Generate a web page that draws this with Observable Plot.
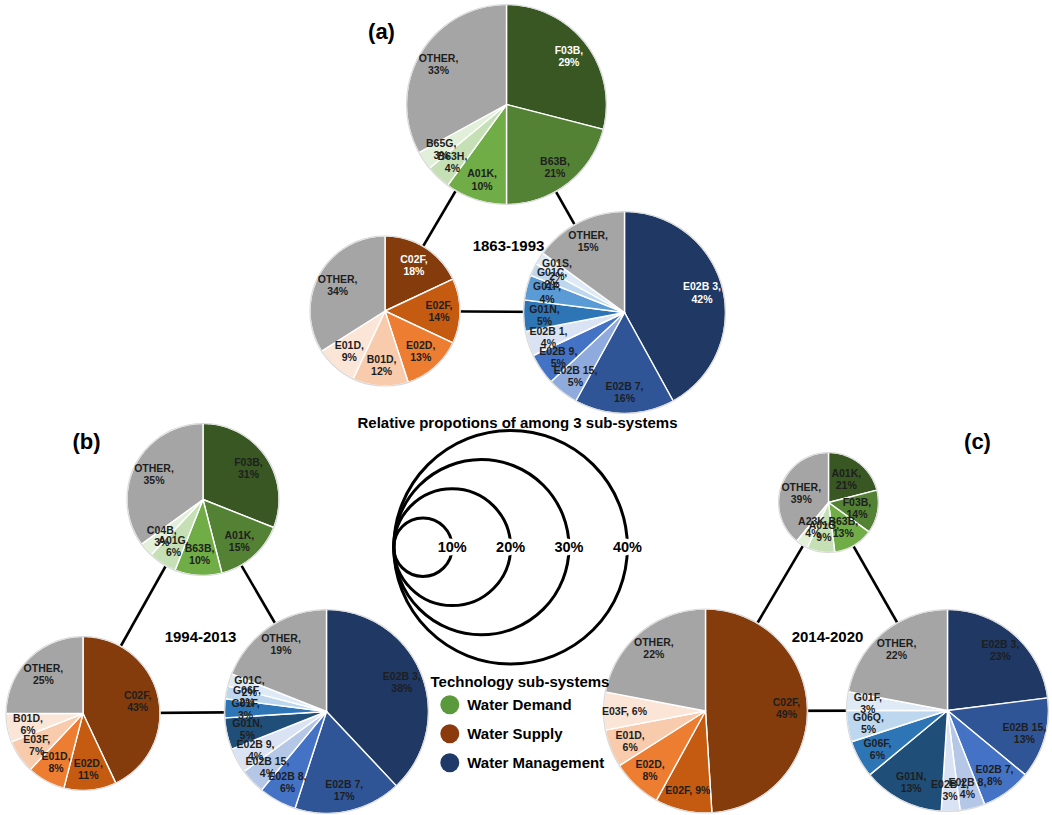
<!DOCTYPE html>
<html>
<head>
<meta charset="utf-8">
<script src="https://cdn.jsdelivr.net/npm/d3@7"></script>
<script src="https://cdn.jsdelivr.net/npm/@observablehq/plot@0.6"></script>
<style>
  html, body { margin: 0; padding: 0; background: #fff; }
  #chart svg { display: block; }
</style>
</head>
<body>
<div id="chart"></div>
<script>
// ---------------- DATA ----------------
// (a) 1863-1993
const demandA_cat = ["F03B", "B63B", "A01K", "B63H", "B65G", "OTHER"];
const demandA_val = [29, 21, 10, 4, 3, 33];
const supplyA_cat = ["C02F", "E02F", "E02D", "B01D", "E01D", "OTHER"];
const supplyA_val = [18, 14, 13, 12, 9, 34];
const mgmtA_cat = ["E02B 3", "E02B 7", "E02B 15", "E02B 9", "E02B 1", "G01N", "G01F", "G01C", "G01S", "OTHER"];
const mgmtA_val = [42, 16, 5, 5, 4, 5, 4, 2, 2, 15];
// (b) 1994-2013
const demandB_cat = ["F03B", "A01K", "B63B", "A01G", "C04B", "OTHER"];
const demandB_val = [31, 15, 10, 6, 3, 35];
const supplyB_cat = ["C02F", "E02D", "E01D", "E03F", "B01D", "OTHER"];
const supplyB_val = [43, 11, 8, 7, 6, 25];
const mgmtB_cat = ["E02B 3", "E02B 7", "E02B 8", "E02B 15", "E02B 9", "G01N", "G01F", "G06F", "G01C", "OTHER"];
const mgmtB_val = [38, 17, 6, 4, 4, 5, 3, 2, 2, 19];
// (c) 2014-2020
const demandC_cat = ["A01K", "F03B", "B63B", "A01G", "A23K", "OTHER"];
const demandC_val = [21, 14, 13, 9, 4, 39];
const supplyC_cat = ["C02F", "E02F", "E02D", "E01D", "E03F", "OTHER"];
const supplyC_val = [49, 9, 8, 6, 6, 22];
const mgmtC_cat = ["E02B 3", "E02B 15", "E02B 7", "E02B 8", "E02B 1", "G01N", "G06F", "G06Q", "G01F", "OTHER"];
const mgmtC_val = [23, 13, 8, 4, 3, 13, 6, 5, 3, 22];

const periods = ["1863-1993", "1994-2013", "2014-2020"];
const panelTags = ["(a)", "(b)", "(c)"];
const scalePct = [10, 20, 30, 40];
const subsystems = ["Water Demand", "Water Supply", "Water Management"];

// ---------------- STYLES ----------------
const GRAY = "#A5A5A5";
const greens = ["#385723", "#548235", "#70AD47", "#C5E0B4", "#E2F0D9", GRAY];
const supplyCol = ["#843C0C", "#C55A11", "#ED7D31", "#F8CBAD", "#FBE5D6", GRAY];
const mgmtColA = ["#1F3864", "#2F5597", "#8FAADC", "#4472C4", "#DAE3F3", "#2E75B6", "#5B9BD5", "#BDD7EE", "#DEEBF7", GRAY];
const mgmtColB = ["#1F3864", "#2F5597", "#4472C4", "#B4C7E7", "#DAE3F3", "#1F4E79", "#2E75B6", "#BDD7EE", "#DEEBF7", GRAY];
const subsysColors = ["#5A9A3C", "#8B3A0E", "#1F3A68"];
const whiteLabels = new Set(["a-demand:F03B", "a-supply:C02F", "a-mgmt:E02B 3"]);
const oneLineLabels = new Set(["c-supply:E03F", "c-supply:E02F"]);
const LABEL_FONT = "'Liberation Sans Narrow', 'Liberation Sans', Arial, sans-serif";
const FONT = "'Liberation Sans', Arial, sans-serif";

// ---------------- LAYOUT ----------------
const W = 1052, H = 815;
const pies = [
  {id: "a-demand", panel: 0, role: "demand", cats: demandA_cat, vals: demandA_val, colors: greens,    cx: 506,   cy: 104,   r: 100},
  {id: "a-supply", panel: 0, role: "supply", cats: supplyA_cat, vals: supplyA_val, colors: supplyCol, cx: 384.5, cy: 310.5, r: 75},
  {id: "a-mgmt",   panel: 0, role: "mgmt",   cats: mgmtA_cat,   vals: mgmtA_val,   colors: mgmtColA,  cx: 624,   cy: 312,   r: 101},
  {id: "b-demand", panel: 1, role: "demand", cats: demandB_cat, vals: demandB_val, colors: greens,    cx: 202.5, cy: 499,   r: 76},
  {id: "b-supply", panel: 1, role: "supply", cats: supplyB_cat, vals: supplyB_val, colors: supplyCol, cx: 82.5,  cy: 713,   r: 77},
  {id: "b-mgmt",   panel: 1, role: "mgmt",   cats: mgmtB_cat,   vals: mgmtB_val,   colors: mgmtColB,  cx: 326,   cy: 711,   r: 102},
  {id: "c-demand", panel: 2, role: "demand", cats: demandC_cat, vals: demandC_val, colors: greens,    cx: 828,   cy: 502,   r: 50},
  {id: "c-supply", panel: 2, role: "supply", cats: supplyC_cat, vals: supplyC_val, colors: supplyCol, cx: 705,   cy: 710.5, r: 102},
  {id: "c-mgmt",   panel: 2, role: "mgmt",   cats: mgmtC_cat,   vals: mgmtC_val,   colors: mgmtColB,  cx: 947,   cy: 710,   r: 101}
];
const periodPos = [[508, 246], [200, 637], [827, 637]];
const tagPos = [[381, 31], [86, 441], [977, 441]];
const scaleLayout = {left: 393.3, cy: 546.7, pxPerPct: 2.92, titleX: 517, titleY: 423};
const legendLayout = {titleX: 430, titleY: 682, dotX: 449.3, y0: 704.3, dy: 29, textX: 466.7, dotR: 9.5};

// ---------------- BUILD GEOMETRY ----------------
const slicePts = [];
const sliceLabels = [];
for (const p of pies) {
  const arcs = d3.pie().sort(null).value(d => d)(p.vals);
  arcs.forEach((a, i) => {
    const key = p.id + ":" + p.cats[i];
    const span = a.endAngle - a.startAngle;
    const n = Math.max(2, Math.ceil(span / (Math.PI / 180)));
    slicePts.push({key, x: p.cx, y: p.cy, fill: p.colors[i]});
    for (let k = 0; k <= n; k++) {
      const t = a.startAngle + span * k / n;
      slicePts.push({key, x: p.cx + p.r * Math.sin(t), y: p.cy - p.r * Math.cos(t), fill: p.colors[i]});
    }
    const m = (a.startAngle + a.endAngle) / 2;
    const lr = p.r - 21;
    const sep = oneLineLabels.has(key) ? ", " : ",\n";
    sliceLabels.push({
      x: p.cx + lr * Math.sin(m),
      y: p.cy - lr * Math.cos(m),
      text: p.cats[i] + sep + p.vals[i] + "%",
      color: whiteLabels.has(key) ? "#ffffff" : "#1e1e1e"
    });
  });
}

const connectors = [];
for (let k = 0; k < 3; k++) {
  const ps = pies.filter(p => p.panel === k);
  const d = ps.find(p => p.role === "demand"), s = ps.find(p => p.role === "supply"), m = ps.find(p => p.role === "mgmt");
  connectors.push({x1: d.cx, y1: d.cy, x2: s.cx, y2: s.cy});
  connectors.push({x1: d.cx, y1: d.cy, x2: m.cx, y2: m.cy});
  connectors.push({x1: s.cx, y1: s.cy, x2: m.cx, y2: m.cy});
}

const scaleCircles = scalePct.map(v => ({
  v, r: v * scaleLayout.pxPerPct,
  x: scaleLayout.left + v * scaleLayout.pxPerPct, y: scaleLayout.cy,
  lx: scaleLayout.left + 2 * v * scaleLayout.pxPerPct
}));

const legendItems = subsystems.map((s, i) => ({s, color: subsysColors[i], y: legendLayout.y0 + i * legendLayout.dy}));

const chart = Plot.plot({
  width: W, height: H, margin: 0,
  x: {domain: [0, W], range: [0, W], axis: null},
  y: {domain: [0, H], range: [0, H], axis: null},
  r: {type: "identity"},
  style: {background: "#fff", fontFamily: FONT},
  marks: [
    Plot.link(connectors, {x1: "x1", y1: "y1", x2: "x2", y2: "y2", stroke: "#000", strokeWidth: 2.6}),
    Plot.line(slicePts, {x: "x", y: "y", z: "key", fill: "fill", stroke: "#fff", strokeWidth: 1.4, strokeLinejoin: "round", curve: "linear-closed"}),
    Plot.dot(pies, {x: "cx", y: "cy", r: "r", stroke: "#d9d9d9", strokeWidth: 1.2, fill: "none"}),
    Plot.text(sliceLabels, {x: "x", y: "y", text: "text", fill: "color", fontSize: 10.5, fontWeight: "bold", fontFamily: LABEL_FONT, lineHeight: 1.15}),
    Plot.text(periods, {x: (d, i) => periodPos[i][0], y: (d, i) => periodPos[i][1], text: d => d, fontSize: 15, fontWeight: "bold", fill: "#000"}),
    Plot.text(panelTags, {x: (d, i) => tagPos[i][0], y: (d, i) => tagPos[i][1], text: d => d, fontSize: 22, fontWeight: "bold", fill: "#000"}),
    Plot.text(["Relative propotions of among 3 sub-systems"], {x: scaleLayout.titleX, y: scaleLayout.titleY, text: d => d, fontSize: 15, fontWeight: "bold", fill: "#000"}),
    Plot.dot(scaleCircles, {x: "x", y: "y", r: "r", stroke: "#000", strokeWidth: 3, fill: "none"}),
    Plot.text(scaleCircles, {x: "lx", y: "y", text: d => d.v + "%", fontSize: 14.5, fontWeight: "bold", fill: "#000", stroke: "#fff", strokeWidth: 7}),
    Plot.text(["Technology sub-systems"], {x: legendLayout.titleX, y: legendLayout.titleY, text: d => d, textAnchor: "start", fontSize: 15, fontWeight: "bold", fill: "#000"}),
    Plot.dot(legendItems, {x: legendLayout.dotX, y: "y", r: legendLayout.dotR, fill: "color", stroke: "none"}),
    Plot.text(legendItems, {x: legendLayout.textX, y: "y", text: "s", textAnchor: "start", fontSize: 15, fontWeight: "bold", fill: "#000"})
  ]
});
document.getElementById("chart").appendChild(chart);
</script>
</body>
</html>
